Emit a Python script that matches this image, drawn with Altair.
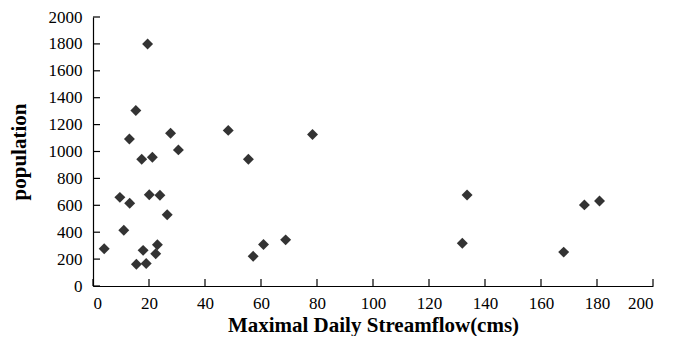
import altair as alt
import pandas as pd

flow = [19.5, 15.3, 13.0, 27.7, 48.3, 30.5, 17.4, 21.2, 55.5, 9.6,
        13.1, 20.1, 23.9, 26.5, 11.0, 4.0, 17.9, 23.0, 22.4, 15.5,
        19.0, 57.2, 60.9, 68.8, 78.4, 133.6, 131.9, 175.5, 180.9, 168.1]
population = [1800, 1305, 1093, 1135, 1157, 1012, 943, 958, 943, 659,
              615, 679, 674, 529, 414, 277, 265, 306, 240, 162,
              167, 221, 309, 343, 1127, 676, 318, 603, 632, 252]
x_ticks = list(range(0, 201, 20))
y_ticks = list(range(0, 2001, 200))

df = pd.DataFrame({"flow": flow, "population": population})
xt = pd.DataFrame({"xt": x_ticks})
yt = pd.DataFrame({"yt": y_ticks})

W, H = 560, 269
FONT = "Liberation Serif"

xscale = alt.Scale(domain=[0, 200], nice=False, zero=True)
yscale = alt.Scale(domain=[0, 2000], nice=False, zero=True)

common = dict(ticks=False, grid=False, domainColor="black", domainWidth=1.2,
              format="d")

xaxis = alt.Axis(values=x_ticks, title="Maximal Daily Streamflow(cms)",
                 labelPadding=9, titlePadding=3, **common)
yaxis = alt.Axis(values=y_ticks, title="population",
                 labelPadding=11, titlePadding=19, **common)

points = alt.Chart(df).mark_point(
    shape="diamond", filled=True, size=120, color="#333333", opacity=1
).encode(
    x=alt.X("flow:Q", scale=xscale, axis=xaxis),
    y=alt.Y("population:Q", scale=yscale, axis=yaxis),
)

ytick_layer = alt.Chart(yt).mark_rule(color="black", strokeWidth=1.2).encode(
    y=alt.Y("yt:Q", scale=yscale, axis=yaxis),
    x=alt.value(0),
    x2=alt.value(7),
)

xtick_layer = alt.Chart(xt).mark_rule(color="black", strokeWidth=1.2).encode(
    x=alt.X("xt:Q", scale=xscale, axis=xaxis),
    y=alt.value(H),
    y2=alt.value(H - 7),
)

chart = alt.layer(points, ytick_layer, xtick_layer).properties(
    width=W, height=H,
    autosize=alt.AutoSizeParams(type="none"),
    padding={"left": 85, "top": 9, "right": 20, "bottom": 50},
).configure(font=FONT).configure_view(stroke=None).configure_axis(
    labelFont=FONT, titleFont=FONT, labelFontSize=17, titleFontSize=21,
    labelColor="black", titleColor="black", titleFontWeight="bold",
    labelFontWeight="normal",
)

chart.save("out.html", embed_options={"renderer": "svg", "actions": False})
